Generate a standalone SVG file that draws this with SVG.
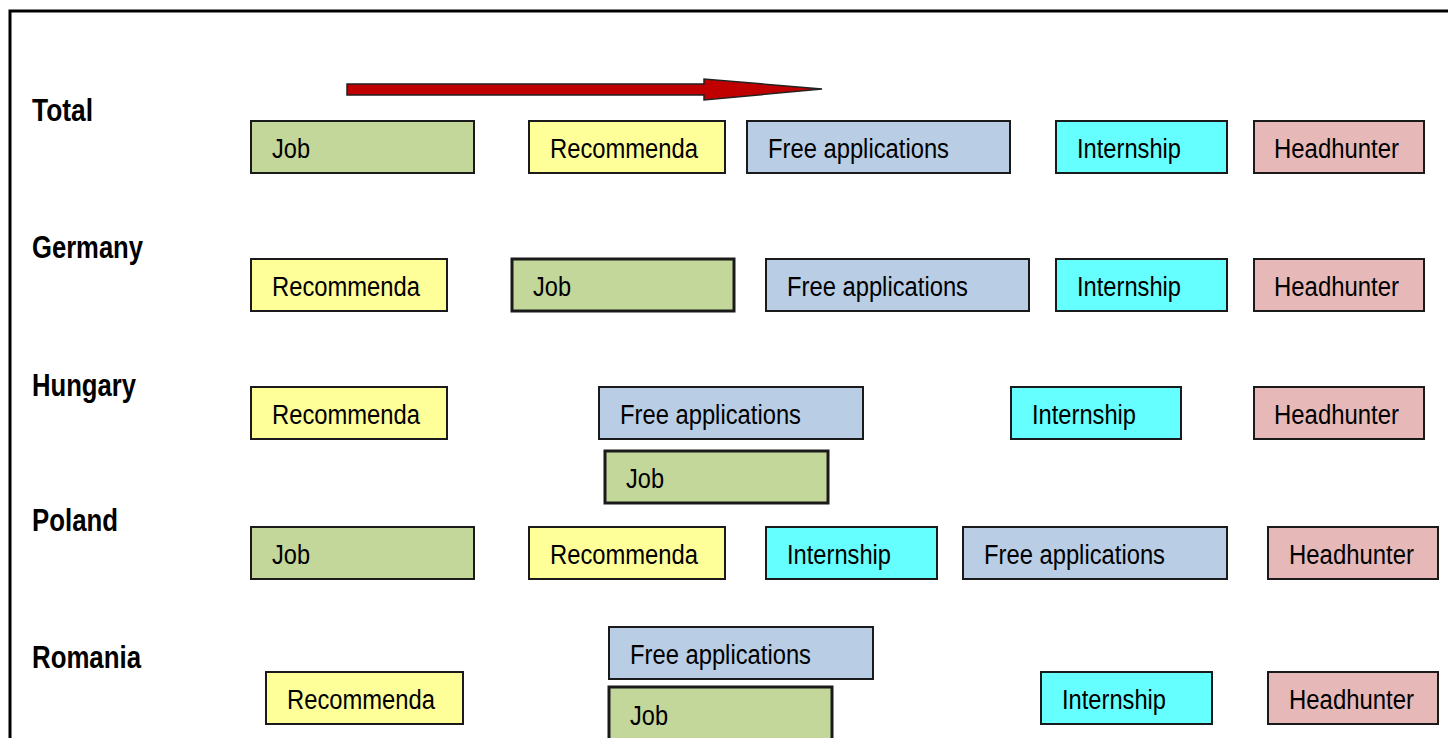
<svg xmlns="http://www.w3.org/2000/svg" width="1448" height="738" viewBox="0 0 1448 738">
<style>
.lbl{font-family:"Liberation Sans",Arial,sans-serif;font-weight:bold;font-size:31px;fill:#000}
.t{font-family:"Liberation Sans",Arial,sans-serif;font-size:27px;fill:#000}
rect.b{stroke:#1a1a1a;stroke-width:2}
rect.thick{stroke-width:3}
.job{fill:#C4D79B}
.rec{fill:#FFFF99}
.free{fill:#B9CDE5}
.int{fill:#66FFFF}
.head{fill:#E6B9B8}
</style>
<rect x="0" y="0" width="1448" height="738" fill="#fff"/>
<rect id="frame" x="10" y="11" width="1460" height="760" fill="none" stroke="#000" stroke-width="3"/>
<g id="connectors">
<polygon points="347,84 704,84 704,79 822,89 704,100 704,95 347,95" fill="#C00000" stroke="#222" stroke-width="1.5"/>
</g>
<g id="labels">
<text class="lbl" x="32" y="121" textLength="61" lengthAdjust="spacingAndGlyphs">Total</text>
<text class="lbl" x="32" y="258" textLength="111" lengthAdjust="spacingAndGlyphs">Germany</text>
<text class="lbl" x="32" y="396" textLength="104" lengthAdjust="spacingAndGlyphs">Hungary</text>
<text class="lbl" x="32" y="531" textLength="86" lengthAdjust="spacingAndGlyphs">Poland</text>
<text class="lbl" x="32" y="668" textLength="109" lengthAdjust="spacingAndGlyphs">Romania</text>
</g>
<g id="total">
<g id="total-job"><rect class="b job" x="251" y="121" width="223" height="52"/><text class="t" x="272" y="158" textLength="38" lengthAdjust="spacingAndGlyphs">Job</text></g>
<g id="total-rec"><rect class="b rec" x="529" y="121" width="196" height="52"/><text class="t" x="550" y="158" textLength="148" lengthAdjust="spacingAndGlyphs">Recommenda</text></g>
<g id="total-free"><rect class="b free" x="747" y="121" width="263" height="52"/><text class="t" x="768" y="158" textLength="181" lengthAdjust="spacingAndGlyphs">Free applications</text></g>
<g id="total-int"><rect class="b int" x="1056" y="121" width="171" height="52"/><text class="t" x="1077" y="158" textLength="104" lengthAdjust="spacingAndGlyphs">Internship</text></g>
<g id="total-head"><rect class="b head" x="1254" y="121" width="170" height="52"/><text class="t" x="1274" y="158" textLength="125" lengthAdjust="spacingAndGlyphs">Headhunter</text></g>
</g>
<g id="germany">
<g id="de-rec"><rect class="b rec" x="251" y="259" width="196" height="52"/><text class="t" x="272" y="296" textLength="148" lengthAdjust="spacingAndGlyphs">Recommenda</text></g>
<g id="de-job"><rect class="b thick job" x="512" y="259" width="222" height="52"/><text class="t" x="533" y="296" textLength="38" lengthAdjust="spacingAndGlyphs">Job</text></g>
<g id="de-free"><rect class="b free" x="766" y="259" width="263" height="52"/><text class="t" x="787" y="296" textLength="181" lengthAdjust="spacingAndGlyphs">Free applications</text></g>
<g id="de-int"><rect class="b int" x="1056" y="259" width="171" height="52"/><text class="t" x="1077" y="296" textLength="104" lengthAdjust="spacingAndGlyphs">Internship</text></g>
<g id="de-head"><rect class="b head" x="1254" y="259" width="170" height="52"/><text class="t" x="1274" y="296" textLength="125" lengthAdjust="spacingAndGlyphs">Headhunter</text></g>
</g>
<g id="hungary">
<g id="hu-rec"><rect class="b rec" x="251" y="387" width="196" height="52"/><text class="t" x="272" y="424" textLength="148" lengthAdjust="spacingAndGlyphs">Recommenda</text></g>
<g id="hu-free"><rect class="b free" x="599" y="387" width="264" height="52"/><text class="t" x="620" y="424" textLength="181" lengthAdjust="spacingAndGlyphs">Free applications</text></g>
<g id="hu-job"><rect class="b thick job" x="605" y="451" width="223" height="52"/><text class="t" x="626" y="488" textLength="38" lengthAdjust="spacingAndGlyphs">Job</text></g>
<g id="hu-int"><rect class="b int" x="1011" y="387" width="170" height="52"/><text class="t" x="1032" y="424" textLength="104" lengthAdjust="spacingAndGlyphs">Internship</text></g>
<g id="hu-head"><rect class="b head" x="1254" y="387" width="170" height="52"/><text class="t" x="1274" y="424" textLength="125" lengthAdjust="spacingAndGlyphs">Headhunter</text></g>
</g>
<g id="poland">
<g id="pl-job"><rect class="b job" x="251" y="527" width="223" height="52"/><text class="t" x="272" y="564" textLength="38" lengthAdjust="spacingAndGlyphs">Job</text></g>
<g id="pl-rec"><rect class="b rec" x="529" y="527" width="196" height="52"/><text class="t" x="550" y="564" textLength="148" lengthAdjust="spacingAndGlyphs">Recommenda</text></g>
<g id="pl-int"><rect class="b int" x="766" y="527" width="171" height="52"/><text class="t" x="787" y="564" textLength="104" lengthAdjust="spacingAndGlyphs">Internship</text></g>
<g id="pl-free"><rect class="b free" x="963" y="527" width="264" height="52"/><text class="t" x="984" y="564" textLength="181" lengthAdjust="spacingAndGlyphs">Free applications</text></g>
<g id="pl-head"><rect class="b head" x="1268" y="527" width="170" height="52"/><text class="t" x="1289" y="564" textLength="125" lengthAdjust="spacingAndGlyphs">Headhunter</text></g>
</g>
<g id="romania">
<g id="ro-free"><rect class="b free" x="609" y="627" width="264" height="52"/><text class="t" x="630" y="664" textLength="181" lengthAdjust="spacingAndGlyphs">Free applications</text></g>
<g id="ro-rec"><rect class="b rec" x="266" y="672" width="197" height="52"/><text class="t" x="287" y="709" textLength="148" lengthAdjust="spacingAndGlyphs">Recommenda</text></g>
<g id="ro-job"><rect class="b thick job" x="609" y="687" width="223" height="60"/><text class="t" x="630" y="725" textLength="38" lengthAdjust="spacingAndGlyphs">Job</text></g>
<g id="ro-int"><rect class="b int" x="1041" y="672" width="171" height="52"/><text class="t" x="1062" y="709" textLength="104" lengthAdjust="spacingAndGlyphs">Internship</text></g>
<g id="ro-head"><rect class="b head" x="1268" y="672" width="170" height="52"/><text class="t" x="1289" y="709" textLength="125" lengthAdjust="spacingAndGlyphs">Headhunter</text></g>
</g>
</svg>
